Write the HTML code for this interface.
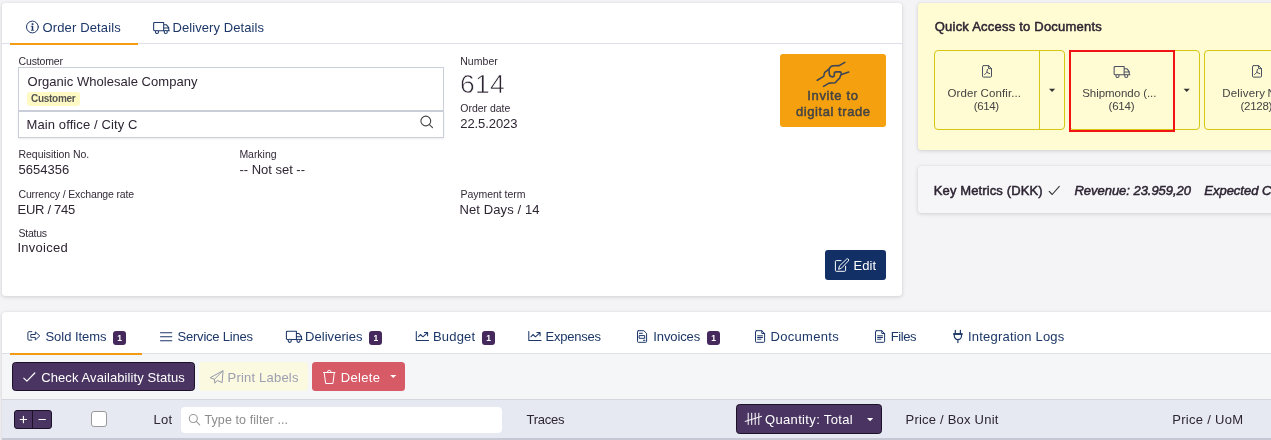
<!DOCTYPE html>
<html>
<head>
<meta charset="utf-8">
<title>Order 614</title>
<style>
*{box-sizing:border-box;margin:0;padding:0}
html,body{width:1271px;height:440px;overflow:hidden}
body{background:#f4f4f6;font-family:"Liberation Sans",sans-serif;color:#333;font-size:13px;position:relative}
.b{position:absolute}
.t{position:absolute;white-space:nowrap;font-family:"Liberation Sans",sans-serif}
.card{position:absolute;background:#fff;border-radius:3px;box-shadow:0 1px 4px rgba(0,0,0,.15),0 0 1px rgba(0,0,0,.1)}
.badge{position:absolute;width:13px;height:13.5px;background:#45295d;border-radius:3px;color:#fff;font-size:8.5px;font-weight:bold;line-height:13.5px;text-align:center}
#tx{position:absolute;left:0;top:0;width:1271px;height:440px;overflow:hidden;will-change:transform}
#ic{position:absolute;left:0;top:0;width:1271px;height:440px;overflow:hidden}
</style>
</head>
<body>
<!-- ============ ORDER DETAILS CARD ============ -->
<div class="card" style="left:2px;top:3px;width:900px;height:292.5px"></div>
<div class="b" style="left:2px;top:43px;width:900px;height:1px;background:#dde0e6"></div>
<div class="b" style="left:10px;top:43px;width:128px;height:2px;background:#f39c12"></div>

<!-- customer box -->
<div class="b" style="left:18px;top:67px;width:426px;height:44px;border:1px solid #c9ced9;background:#fff"></div>
<div class="b" style="left:27px;top:92px;width:53px;height:14px;background:#fff9c4;border-radius:3px"></div>
<div class="b" style="left:18px;top:111px;width:426px;height:27px;border:1px solid #c9ced9;background:#fff;box-shadow:0 1px 2px rgba(0,0,0,.08)"></div>

<!-- invite button -->
<div class="b" style="left:780px;top:54px;width:106px;height:73px;background:#f5a00e;border-radius:3px"></div>

<!-- edit button -->
<div class="b" style="left:825px;top:250px;width:61px;height:30px;background:#123066;border-radius:3px"></div>

<!-- ============ QUICK ACCESS ============ -->
<div class="card" style="left:918px;top:3px;width:380px;height:146.5px;background:#fffbd2"></div>
<div class="b" style="left:934px;top:50px;width:131px;height:80px;border:1px solid #d6c711;border-radius:4px"></div>
<div class="b" style="left:1039px;top:50px;width:1px;height:80px;background:#d6c711"></div>
<div class="b" style="left:1069px;top:50px;width:131px;height:80px;border:1px solid #d6c711;border-radius:4px"></div>
<div class="b" style="left:1068.5px;top:49.5px;width:106px;height:82px;border:2px solid #f21414"></div>
<div class="b" style="left:1204px;top:50px;width:131px;height:80px;border:1px solid #d6c711;border-radius:4px"></div>

<!-- ============ KEY METRICS ============ -->
<div class="card" style="left:918px;top:166px;width:380px;height:46.5px;background:#f6f6f9"></div>

<!-- ============ BOTTOM CARD ============ -->
<div class="card" style="left:2px;top:312px;width:1290px;height:160px"></div>
<div class="b" style="left:2px;top:354px;width:1269px;height:45px;background:#f5f6f8"></div>
<div class="b" style="left:2px;top:353px;width:1269px;height:1px;background:#dde0e6"></div>
<div class="b" style="left:10px;top:353px;width:132px;height:2px;background:#f39c12"></div>

<div class="badge" style="left:113px;top:331px"></div>
<div class="badge" style="left:369px;top:331px"></div>
<div class="badge" style="left:482px;top:331px"></div>
<div class="badge" style="left:707px;top:331px"></div>

<!-- toolbar buttons -->
<div class="b" style="left:12px;top:362px;width:183px;height:29px;background:#4a3461;border:1px solid #1d1127;border-radius:3.5px"></div>
<div class="b" style="left:199px;top:362px;width:108.5px;height:29px;background:#fbf9e0;border-radius:3.5px"></div>
<div class="b" style="left:312px;top:362px;width:93px;height:29px;background:#d65b67;border-radius:3.5px"></div>

<!-- table head -->
<div class="b" style="left:2px;top:399px;width:1269px;height:39px;background:#e6e9f2;border-top:1px solid #d3d6df"></div>
<div class="b" style="left:2px;top:438px;width:1269px;height:2px;background:#c6c9d4"></div>
<div class="b" style="left:14px;top:410px;width:38px;height:19px;background:#4a3461;border:1px solid #1d1127;border-radius:3px"></div>
<div class="b" style="left:32px;top:410px;width:1px;height:19px;background:#1d1127"></div>
<div class="b" style="left:90.5px;top:410.5px;width:16.5px;height:16.5px;background:#fff;border:1px solid #9a9a9a;border-radius:3px"></div>
<div class="b" style="left:181px;top:407px;width:320.5px;height:26px;background:#fff;border-radius:4px"></div>
<div class="b" style="left:736px;top:404px;width:146px;height:30px;background:#4a3461;border:1px solid #1d1127;border-radius:3.5px"></div>

<div id="tx">
<div class="t" style="left:42.50px;top:20.00px;font-size:13px;line-height:16px;letter-spacing:0.143px;color:#1c3768">Order Details</div>
<div class="t" style="left:172.50px;top:20.00px;font-size:13px;line-height:16px;letter-spacing:0.080px;color:#1c3768">Delivery Details</div>
<div class="t" style="left:18.50px;top:55.36px;font-size:10.5px;line-height:13px;letter-spacing:-0.145px;color:#332a38">Customer</div>
<div class="t" style="left:27.50px;top:73.75px;font-size:13px;line-height:16px;letter-spacing:0.038px;color:#2e2533">Organic Wholesale Company</div>
<div class="t" style="left:31.00px;top:93.03px;font-size:10px;line-height:12px;letter-spacing:-0.290px;color:#555;font-weight:bold">Customer</div>
<div class="t" style="left:26.50px;top:117.00px;font-size:13px;line-height:16px;letter-spacing:0.107px;color:#2e2533">Main office / City C</div>
<div class="t" style="left:460.25px;top:54.86px;font-size:10.5px;line-height:13px;letter-spacing:0.030px;color:#332a38">Number</div>
<div class="t" style="left:459.95px;top:68.12px;font-size:26.5px;line-height:32px;letter-spacing:0.262px;color:#2e2533;-webkit-text-stroke:0.7px #fff">614</div>
<div class="t" style="left:460.25px;top:101.86px;font-size:10.5px;line-height:13px;letter-spacing:-0.011px;color:#332a38">Order date</div>
<div class="t" style="left:460.25px;top:115.50px;font-size:13px;line-height:16px;letter-spacing:-0.075px;color:#2e2533">22.5.2023</div>
<div class="t" style="left:807.25px;top:87.75px;font-size:13px;line-height:16px;letter-spacing:0.651px;color:#444;-webkit-text-stroke:0.5px #444">Invite to</div>
<div class="t" style="left:796.00px;top:104.00px;font-size:13px;line-height:16px;letter-spacing:0.564px;color:#444;-webkit-text-stroke:0.5px #444">digital trade</div>
<div class="t" style="left:18.50px;top:147.86px;font-size:10.5px;line-height:13px;letter-spacing:-0.038px;color:#332a38">Requisition No.</div>
<div class="t" style="left:18.50px;top:161.50px;font-size:13px;line-height:16px;letter-spacing:0.020px;color:#2e2533">5654356</div>
<div class="t" style="left:239.40px;top:147.86px;font-size:10.5px;line-height:13px;letter-spacing:-0.034px;color:#332a38">Marking</div>
<div class="t" style="left:239.40px;top:161.50px;font-size:13px;line-height:16px;letter-spacing:-0.008px;color:#2e2533">-- Not set --</div>
<div class="t" style="left:18.50px;top:187.86px;font-size:10.5px;line-height:13px;letter-spacing:-0.149px;color:#332a38">Currency / Exchange rate</div>
<div class="t" style="left:17.50px;top:201.50px;font-size:13px;line-height:16px;letter-spacing:-0.280px;color:#2e2533">EUR / 745</div>
<div class="t" style="left:460.50px;top:187.86px;font-size:10.5px;line-height:13px;letter-spacing:-0.032px;color:#332a38">Payment term</div>
<div class="t" style="left:459.50px;top:201.50px;font-size:13px;line-height:16px;letter-spacing:0.102px;color:#2e2533">Net Days / 14</div>
<div class="t" style="left:18.50px;top:226.86px;font-size:10.5px;line-height:13px;letter-spacing:-0.253px;color:#332a38">Status</div>
<div class="t" style="left:17.50px;top:240.25px;font-size:13px;line-height:16px;letter-spacing:0.259px;color:#2e2533">Invoiced</div>
<div class="t" style="left:853.50px;top:257.75px;font-size:13px;line-height:16px;letter-spacing:0.070px;color:#fff">Edit</div>
<div class="t" style="left:934.75px;top:18.50px;font-size:13px;line-height:16px;letter-spacing:0.216px;color:#2e2533;-webkit-text-stroke:0.5px #2e2533">Quick Access to Documents</div>
<div class="t" style="left:947.50px;top:86.22px;font-size:11.5px;line-height:14px;letter-spacing:0.088px;color:#444">Order Confir...</div>
<div class="t" style="left:973.75px;top:99.02px;font-size:11.5px;line-height:14px;letter-spacing:-0.379px;color:#444">(614)</div>
<div class="t" style="left:1082.25px;top:86.22px;font-size:11.5px;line-height:14px;letter-spacing:-0.046px;color:#444">Shipmondo (...</div>
<div class="t" style="left:1108.50px;top:99.02px;font-size:11.5px;line-height:14px;letter-spacing:-0.192px;color:#444">(614)</div>
<div class="t" style="left:1222.25px;top:86.22px;font-size:11.5px;line-height:14px;letter-spacing:0.181px;color:#444">Delivery</div>
<div class="t" style="left:1267.60px;top:86.22px;font-size:11.5px;line-height:14px;letter-spacing:0.168px;color:#444">Note</div>
<div class="t" style="left:1240.50px;top:99.02px;font-size:11.5px;line-height:14px;letter-spacing:-0.283px;color:#444">(2128)</div>
<div class="t" style="left:933.75px;top:182.50px;font-size:13px;line-height:16px;letter-spacing:0.121px;color:#2e2533;-webkit-text-stroke:0.5px #2e2533">Key Metrics (DKK)</div>
<div class="t" style="left:1074.50px;top:182.50px;font-size:13px;line-height:16px;letter-spacing:-0.036px;color:#2e2533;-webkit-text-stroke:0.5px #2e2533;font-style:italic">Revenue: 23.959,20</div>
<div class="t" style="left:1204.25px;top:182.50px;font-size:13px;line-height:16px;letter-spacing:-0.003px;color:#2e2533;-webkit-text-stroke:0.5px #2e2533;font-style:italic">Expected Costs</div>
<div class="t" style="left:45.50px;top:328.50px;font-size:13px;line-height:16px;letter-spacing:-0.046px;color:#1c3768">Sold Items</div>
<div class="t" style="left:177.50px;top:328.50px;font-size:13px;line-height:16px;letter-spacing:-0.212px;color:#1c3768">Service Lines</div>
<div class="t" style="left:305.00px;top:328.50px;font-size:13px;line-height:16px;letter-spacing:0.048px;color:#1c3768">Deliveries</div>
<div class="t" style="left:433.00px;top:328.50px;font-size:13px;line-height:16px;letter-spacing:0.182px;color:#1c3768">Budget</div>
<div class="t" style="left:545.50px;top:328.50px;font-size:13px;line-height:16px;letter-spacing:-0.227px;color:#1c3768">Expenses</div>
<div class="t" style="left:653.25px;top:328.50px;font-size:13px;line-height:16px;letter-spacing:-0.099px;color:#1c3768">Invoices</div>
<div class="t" style="left:770.50px;top:328.50px;font-size:13px;line-height:16px;letter-spacing:0.313px;color:#1c3768">Documents</div>
<div class="t" style="left:890.75px;top:328.50px;font-size:13px;line-height:16px;letter-spacing:-0.424px;color:#1c3768">Files</div>
<div class="t" style="left:968.00px;top:328.50px;font-size:13px;line-height:16px;letter-spacing:0.201px;color:#1c3768">Integration Logs</div>
<div class="t" style="left:117.20px;top:332.95px;font-size:8.5px;line-height:10px;letter-spacing:0.000px;color:#fff;font-weight:bold">1</div>
<div class="t" style="left:373.40px;top:332.95px;font-size:8.5px;line-height:10px;letter-spacing:0.000px;color:#fff;font-weight:bold">1</div>
<div class="t" style="left:486.20px;top:332.95px;font-size:8.5px;line-height:10px;letter-spacing:0.000px;color:#fff;font-weight:bold">1</div>
<div class="t" style="left:711.20px;top:332.95px;font-size:8.5px;line-height:10px;letter-spacing:0.000px;color:#fff;font-weight:bold">1</div>
<div class="t" style="left:41.25px;top:369.50px;font-size:13px;line-height:16px;letter-spacing:0.089px;color:#fff">Check Availability Status</div>
<div class="t" style="left:227.60px;top:369.50px;font-size:13px;line-height:16px;letter-spacing:0.195px;color:#9c9fb0">Print Labels</div>
<div class="t" style="left:340.80px;top:369.50px;font-size:13px;line-height:16px;letter-spacing:0.310px;color:#fff">Delete</div>
<div class="t" style="left:153.50px;top:412.00px;font-size:13px;line-height:16px;letter-spacing:0.270px;color:#2e2533">Lot</div>
<div class="t" style="left:204.50px;top:412.67px;font-size:12.5px;line-height:15px;letter-spacing:0.088px;color:#8c8c8c">Type to filter ...</div>
<div class="t" style="left:526.50px;top:411.75px;font-size:13px;line-height:16px;letter-spacing:-0.250px;color:#2e2533">Traces</div>
<div class="t" style="left:765.00px;top:411.75px;font-size:13px;line-height:16px;letter-spacing:0.342px;color:#fff">Quantity: Total</div>
<div class="t" style="left:905.50px;top:411.75px;font-size:13px;line-height:16px;letter-spacing:0.218px;color:#2e2533">Price / Box Unit</div>
<div class="t" style="left:1172.25px;top:411.75px;font-size:13px;line-height:16px;letter-spacing:0.293px;color:#2e2533">Price / UoM</div>
</div>

<!-- ============ ICONS ============ -->
<svg id="ic" viewBox="0 0 1271 440" fill="none" stroke-linecap="round" stroke-linejoin="round">
 <!-- info circle -->
 <g stroke="#1c3768" stroke-width="1">
  <circle cx="32.4" cy="27" r="5.9"/>
 </g>
 <g fill="#1c3768" stroke="#1c3768" stroke-width=".25"><circle cx="32.5" cy="24.1" r="0.85"/><path d="M31.2 25.9h1.9v4h.8v.6h-2.9v-.6h.9v-3.4h-.7z"/></g>
 <g transform="translate(153.25 22.3)" stroke="#1c3768" stroke-width="1.05" fill="none"><path d="M2.2 8.4H1.4Q0.4 8.4 0.4 7.4V1.1Q0.4 0.1 1.4 0.1H10.4V8.4H5.3M10.4 2.4H13L15.5 5.4V8.4H14M10.4 8.4H11M10.4 5.7H15.5M15.5 8.4H16.1"/><circle cx="3.75" cy="9.7" r="1.55"/><circle cx="12.5" cy="9.7" r="1.55"/></g>
<g transform="translate(286 331.1)" stroke="#1c3768" stroke-width="1.05" fill="none"><path d="M2.2 8.4H1.4Q0.4 8.4 0.4 7.4V1.1Q0.4 0.1 1.4 0.1H10.4V8.4H5.3M10.4 2.4H13L15.5 5.4V8.4H14M10.4 8.4H11M10.4 5.7H15.5M15.5 8.4H16.1"/><circle cx="3.75" cy="9.7" r="1.55"/><circle cx="12.5" cy="9.7" r="1.55"/></g>
<g transform="translate(1113.75 66.3)" stroke="#4a5060" stroke-width="1.05" fill="none"><path d="M2.2 8.4H1.4Q0.4 8.4 0.4 7.4V1.1Q0.4 0.1 1.4 0.1H10.4V8.4H5.3M10.4 2.4H13L15.5 5.4V8.4H14M10.4 8.4H11M10.4 5.7H15.5M15.5 8.4H16.1"/><circle cx="3.75" cy="9.7" r="1.55"/><circle cx="12.5" cy="9.7" r="1.55"/></g>
 <!-- search (address) -->
 <g stroke="#444" stroke-width="1.1"><circle cx="425.8" cy="121" r="4.9"/><path d="M429.400 124.600L432.500 127.700"/></g>
 <!-- search (filter) -->
 <g stroke="#9a9a9a" stroke-width="1.1"><circle cx="193.3" cy="418.5" r="4"/><path d="M196.2 421.4L199.7 424.8"/></g>
 <!-- handshake -->
 <g stroke="#3d4656" stroke-width="1.6">
  <path d="M817.3 80.3L823.7 76.4L824.4 73.2Q824.6 71.8 827 70.7L829 69.1Q830.5 66 833.5 65.8L839.2 65.6L844.8 62.4"/>
  <path d="M829 69.1L829.3 74Q829.6 76.8 832.3 76.9Q834.3 76.7 834.3 75L834.3 73.6Q834.3 71.9 836 71.9L839.8 71.9Q841.3 71.9 841.3 73.4L841.3 74.8"/>
  <path d="M823.5 86.4L829 83.1L835.2 82.8L837.2 80.5L839.7 78.1L840.9 74.8L848.7 72.1"/>
 </g>
 <!-- edit pencil-square -->
 <g stroke="#fff" stroke-width="1">
  <path d="M841 260.6H836.3Q835.4 260.6 835.4 261.5V270.4Q835.4 271.3 836.3 271.3H844.7Q845.6 271.3 845.6 270.4V266.3"/>
  <path d="M838.7 268.9L839.5 265.9L846.5 259.2A1.2 1.2 0 0 1 848.4 260.9L841.6 268Z"/>
 </g>
 <!-- pdf icons -->
 <g stroke="#4a5060" stroke-width="1">
  <path d="M983.5 65.6H988.6L991.5 68.6V76.1Q991.5 77.1 990.5 77.1H983.5Q982.5 77.1 982.5 76.1V66.6Q982.5 65.6 983.5 65.6ZM988.6 65.6V68.6H991.5"/>
  <path d="M984.6 74.6L986.8 72.4L987.4 69.4M986.8 72.4L989.8 73.6"/>
  <path d="M1253.5 65.6H1258.6L1261.500 68.6V76.1Q1261.500 77.1 1260.500 77.1H1253.500Q1252.500 77.1 1252.500 76.1V66.6Q1252.500 65.6 1253.500 65.6ZM1258.6 65.6V68.6H1261.500"/>
  <path d="M1254.6 74.6L1256.800 72.4L1257.400 69.4M1256.800 72.4L1259.800 73.6"/>
 </g>
 <!-- carets -->
 <g fill="#333" stroke="none">
  <path d="M1049 88.8h6.200l-3.100 3.300z"/>
  <path d="M1183.600 88.8h6.200l-3.100 3.300z"/>
 </g>
 <g fill="#fff" stroke="none">
  <path d="M390.200 374.900h6.100l-3.050 3.200z"/>
  <path d="M867 418h6.200l-3.100 3.200z"/>
 </g>
 <!-- key metrics check -->
 <path d="M1049.200 191.300L1052.200 194.500L1059.300 186.400" stroke="#333" stroke-width="1.1"/>
 <!-- sold items icon -->
 <g stroke="#1c3768" stroke-width="1">
  <path d="M31.8 331.700H28.900Q27.900 331.700 27.900 332.700V339.100Q27.900 340.100 28.900 340.100H31.800"/>
  <path d="M31.200 334.500H35.300V331.900L39.800 335.900L35.300 340V337.400H31.200Z"/>
 </g>
 <!-- list icon -->
 <g stroke="#1c3768" stroke-width="1.1"><path d="M160.500 332.700H171.800M160.500 336.700H171.800M160.500 340.800H171.800"/></g>
 <!-- graph icons -->
 <g stroke="#1c3768" stroke-width="1.05">
  <path d="M416.3 331.500V340.500H428.6M418.4 336.800L420.4 334.500L422.9 336.800L427.3 332.800M424.4 332.500H427.6V335.700"/>
  <path d="M528.8 331.500V340.500H541.1M530.9 336.800L532.9 334.500L535.4 336.800L539.8 332.800M536.9 332.500H540.1V335.700"/>
 </g>
 <!-- invoice icon -->
 <g stroke="#1c3768" stroke-width="1">
  <path d="M638.300 330.700H643.800L646.600 333.400V341.500Q646.600 342.300 645.800 342.300H638.300Q637.500 342.300 637.500 341.500V331.500Q637.500 330.700 638.300 330.700Z"/>
  <path d="M639.400 333.300H642.400M639.500 335.600H644.700V338.300H639.500ZM643.400 340.300H645"/>
 </g>
 <!-- documents / files icons -->
 <g stroke="#1c3768" stroke-width="1">
  <path d="M756.300 330.700H761.800L764.600 333.500V341.500Q764.600 342.300 763.800 342.300H756.300Q755.500 342.300 755.500 341.500V331.500Q755.500 330.700 756.300 330.700ZM761.800 330.700V333.500H764.600"/>
  <path d="M757.600 335.800H762.500M757.600 337.500H762.500M757.600 339.200H761"/>
  <path d="M876.300 330.700H881.800L884.600 333.500V341.500Q884.600 342.300 883.800 342.300H876.300Q875.500 342.300 875.500 341.500V331.500Q875.500 330.700 876.300 330.700ZM881.800 330.700V333.500H884.600"/>
  <path d="M877.600 335.800H882.500M877.600 337.500H882.500M877.600 339.200H881"/>
 </g>
 <!-- plug -->
 <g stroke="#1c3768" stroke-width="1.2">
  <path d="M955.300 330.300V333M960.400 330.300V333M954.300 334.500V335.800A3.600 3.800 0 0 0 961.500 335.800V334.500M957.900 339.700V342.600"/>
  <path d="M953.200 334H962.600" stroke-width="1.9" stroke-linecap="butt"/>
 </g>
 <!-- check (button) -->
 <path d="M23.800 378.100L26.900 381.100L34.800 373" stroke="#fff" stroke-width="1.2"/>
 <!-- paper plane -->
 <g stroke="#9599a8" stroke-width="1">
  <path d="M222.700 370.900L210.200 377.700L214.500 379.300L214.800 383.200L217.200 380.500L221.800 382.400Z"/>
  <path d="M214.500 379.300L222.700 370.900"/>
 </g>
 <!-- trash -->
 <g stroke="#fff" stroke-width="1">
  <path d="M323.400 372.500H335M327.300 372.400Q327.400 370.300 329.250 370.300Q331.100 370.300 331.200 372.400M324.200 372.700L325.700 383.500H332.900L334.300 372.700"/>
 </g>
 <!-- plus / minus -->
 <g stroke="#fff" stroke-width="1.1"><path d="M20.200 419.500H26.600M23.400 416.300V422.700M38.900 419.500H45.400"/></g>
 <!-- tally -->
 <g stroke="#fff" stroke-width="1"><path d="M748.200 413.200V424.500M751.700 413.200V424.500M755.200 413.200V424.500M758.800 413.200V424.500M745.200 421.400L761.700 416.300"/></g>
</svg>

</body>
</html>
